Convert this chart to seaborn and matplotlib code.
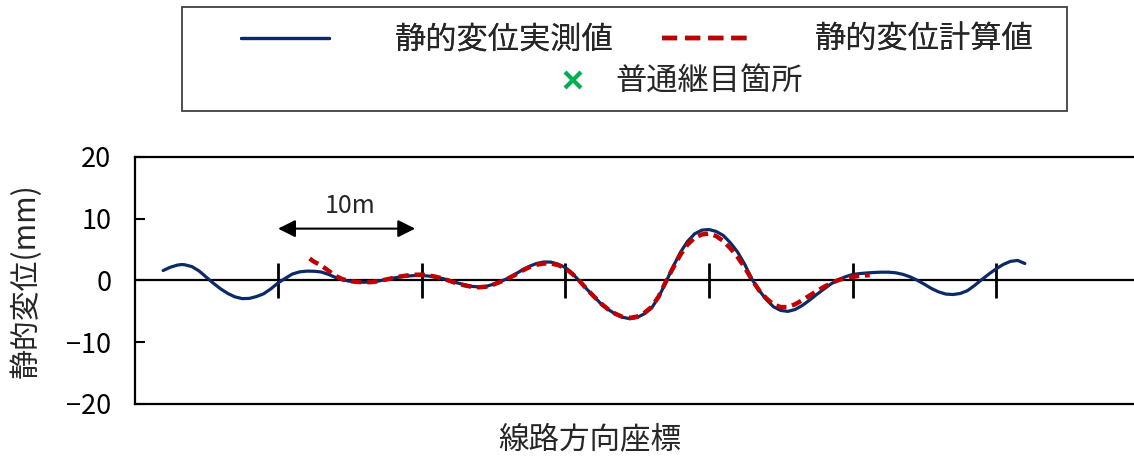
import matplotlib
matplotlib.use("Agg")
import matplotlib.pyplot as plt
from matplotlib.lines import Line2D
from matplotlib.patches import Rectangle
import seaborn as sns

# Track position (m) and static displacement (mm): measured values
measured_x = [-8.0, -7.5, -7.0, -6.7, -6.5, -6.0, -5.5, -5.0, -4.5, -4.0, -3.5, -3.0, -2.5,
              -2.0, -1.5, -1.0, -0.5, 0.0, 0.5, 1.0, 1.5, 2.0, 2.5, 3.0, 3.5, 4.0, 4.5, 5.0,
              5.5, 6.0, 6.5, 7.0, 7.5, 8.0, 8.5, 9.0, 9.5, 10.0, 10.5, 11.0, 11.5, 12.0,
              12.5, 13.0, 13.5, 14.0, 14.5, 15.0, 15.5, 16.0, 16.5, 17.0, 17.5, 18.0, 18.5,
              19.0, 19.5, 20.0, 20.5, 21.0, 21.5, 22.0, 22.5, 23.0, 23.5, 24.0, 24.5, 25.0,
              25.5, 26.0, 26.5, 27.0, 27.5, 28.0, 28.5, 29.0, 29.5, 30.0, 30.5, 31.0, 31.5,
              32.0, 32.5, 33.0, 33.5, 34.0, 34.5, 35.0, 35.5, 36.0, 36.5, 37.0, 37.5, 38.0,
              38.5, 39.0, 39.5, 40.0, 40.5, 41.0, 41.5, 42.0, 42.5, 43.0, 43.5, 44.0, 44.5,
              45.0, 45.5, 46.0, 46.5, 47.0, 47.5, 48.0, 48.5, 49.0, 49.5, 50.0, 50.5, 51.0,
              51.5, 52.0]
measured_y = [1.62, 2.15, 2.50, 2.59, 2.55, 2.25, 1.55, 0.55, -0.45, -1.35, -2.10, -2.65,
              -2.93, -2.90, -2.60, -2.15, -1.35, -0.40, 0.35, 1.05, 1.40, 1.52, 1.50, 1.38,
              1.00, 0.50, 0.10, -0.12, -0.25, -0.28, -0.24, -0.08, 0.15, 0.38, 0.58, 0.72,
              0.80, 0.80, 0.72, 0.55, 0.30, -0.05, -0.40, -0.70, -0.95, -1.05, -0.95, -0.60,
              -0.15, 0.35, 1.00, 1.70, 2.30, 2.75, 3.00, 2.98, 2.65, 2.10, 1.10, -0.10,
              -1.40, -2.60, -3.80, -4.70, -5.45, -5.95, -6.20, -6.00, -5.40, -4.50, -2.70,
              -0.30, 2.20, 4.50, 6.30, 7.55, 8.15, 8.26, 7.95, 7.30, 6.10, 4.60, 2.60, 0.20,
              -1.60, -3.10, -4.26, -4.85, -5.00, -4.70, -4.05, -3.20, -2.27, -1.40, -0.55,
              0.10, 0.60, 0.97, 1.12, 1.22, 1.30, 1.35, 1.35, 1.25, 1.00, 0.60, 0.05, -0.60,
              -1.30, -1.85, -2.20, -2.27, -2.10, -1.65, -0.80, 0.15, 1.05, 1.89, 2.60, 3.10,
              3.25, 2.75]

# Calculated values
calc_x = [2.2, 2.5, 3.0, 3.5, 4.0, 4.5, 5.0, 5.5, 6.0, 6.5, 7.0, 7.5, 8.0, 8.5, 9.0, 9.5,
          10.0, 10.5, 11.0, 11.5, 12.0, 12.5, 13.0, 13.5, 14.0, 14.5, 15.0, 15.5, 16.0,
          16.5, 17.0, 17.5, 18.0, 18.5, 19.0, 19.5, 20.0, 20.5, 21.0, 21.5, 22.0, 22.5,
          23.0, 23.5, 24.0, 24.5, 25.0, 25.5, 26.0, 26.5, 27.0, 27.5, 28.0, 28.5, 29.0,
          29.5, 30.0, 30.5, 31.0, 31.5, 32.0, 32.5, 33.0, 33.5, 34.0, 34.5, 35.0, 35.5,
          36.0, 36.5, 37.0, 37.5, 38.0, 38.5, 39.0, 39.5, 40.0, 40.5, 41.0, 41.2]
calc_y = [3.56, 3.05, 2.45, 1.60, 0.75, 0.20, -0.10, -0.22, -0.28, -0.26, -0.10, 0.15, 0.40,
          0.65, 0.82, 0.93, 0.95, 0.82, 0.60, 0.30, -0.10, -0.48, -0.80, -1.02, -1.10,
          -1.00, -0.65, -0.20, 0.30, 0.90, 1.60, 2.15, 2.55, 2.75, 2.75, 2.50, 2.00, 1.05,
          -0.10, -1.40, -2.60, -3.75, -4.70, -5.40, -5.90, -6.05, -5.85, -5.25, -4.30,
          -2.60, -0.20, 2.00, 4.10, 5.80, 6.90, 7.45, 7.60, 7.20, 6.40, 5.20, 3.80, 2.10,
          0.10, -1.60, -2.90, -3.90, -4.30, -4.30, -3.85, -3.20, -2.45, -1.73, -1.05,
          -0.45, 0.05, 0.38, 0.60, 0.75, 0.84, 0.86]

# Ordinary rail joint positions (m)
joint_x = [0, 10, 20, 30, 40, 50]

y_ticks = [-20, -10, 0, 10, 20]
y_tick_labels = ["\u221220", "\u221210", "0", "10", "20"]
label_measured = "静的変位実測値"
label_calc = "静的変位計算値"
label_joint = "普通継目箇所"

sns.set_style("white")
plt.rcParams["font.family"] = ["Noto Sans CJK JP", "DejaVu Sans"]

blue = "#0B2A66"
red = "#C00000"
green = "#00B050"

fig = plt.figure(figsize=(11.34, 4.57), dpi=100)
ax = fig.add_axes([135 / 1134, 1 - 404 / 457, 1 - 135 / 1134, 247 / 457])

ax.axhline(0, color="black", lw=1.6, zorder=1)
ax.vlines(joint_x, -2.8, 2.8, color="black", lw=2.0, zorder=2)

sns.lineplot(x=measured_x, y=measured_y, ax=ax, color=blue, lw=2.3, zorder=3, sort=False)
sns.lineplot(x=calc_x, y=calc_y, ax=ax, color=red, lw=3.2, zorder=4, sort=False)
ax.lines[-1].set_dashes((2.3, 1.3))

ax.set_xlim(-9.96, 59.6)
ax.set_ylim(-20, 20)
ax.set_yticks(y_ticks)
ax.set_yticklabels(y_tick_labels)
ax.set_xticks([])
ax.tick_params(axis="y", direction="in", length=7, width=1.5, pad=17,
               labelsize=19.5, left=True, colors="black")
for side in ["left", "top", "bottom"]:
    ax.spines[side].set_color("black")
    ax.spines[side].set_linewidth(1.6)
ax.spines["right"].set_visible(False)

ax.set_ylabel("静的変位(mm)", fontsize=21.5)
ax.yaxis.set_label_coords(-0.093, 0.5)
ax.set_xlabel("線路方向座標", fontsize=22)
ax.xaxis.set_label_coords(0.4555, -0.082)

# 10 m scale arrow
ax.annotate("", xy=(9.55, 8.4), xytext=(0, 8.4),
            arrowprops=dict(arrowstyle="<|-|>,head_length=0.7,head_width=0.35",
                            mutation_scale=15, color="black", lw=1.5,
                            shrinkA=0, shrinkB=0))
ax.text(5.0, 12.1, "10m", fontsize=18, ha="center", va="center")

# Legend frame and entries
fig.patches.append(Rectangle((182 / 1134, 1 - 111 / 457), (1067 - 182) / 1134, 104 / 457,
                             transform=fig.transFigure, fill=False,
                             edgecolor="#404040", lw=1.3))
h_meas = Line2D([], [], color=blue, lw=2.3)
h_calc = Line2D([], [], color=red, lw=3.2, dashes=(3.4, 1.8))
h_joint = Line2D([], [], color=green, marker="x", ls="none", markersize=11, mew=3)

leg1 = fig.legend([h_meas, h_calc], [label_measured, label_calc], ncol=2,
                  loc="center", bbox_to_anchor=(637.5 / 1134, 1 - 40 / 457),
                  frameon=False, fontsize=22.5, handlelength=2.8, handletextpad=2.1,
                  columnspacing=1.57)
fig.add_artist(leg1)
fig.legend([h_joint], [label_joint], loc="center",
           bbox_to_anchor=(676.5 / 1134, 1 - 82 / 457), frameon=False, fontsize=22.5,
           handlelength=1.5, handletextpad=0.6)

fig.savefig("out.png", dpi=100)
